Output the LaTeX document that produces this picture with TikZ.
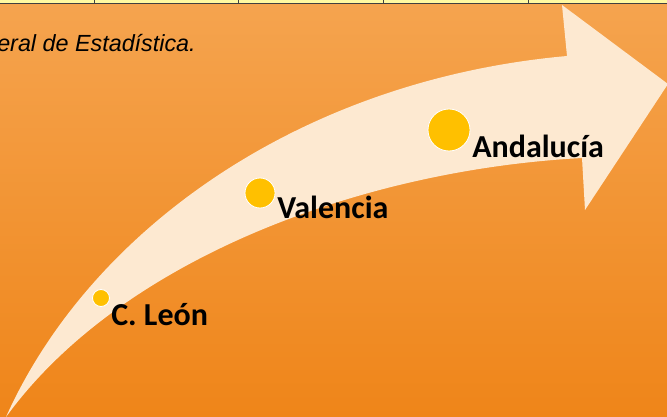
\documentclass[tikz,border=0pt]{standalone}
\usepackage{fontspec}
\setmainfont{Carlito}
\newfontfamily\srcfont{Liberation Sans}
\usetikzlibrary{positioning}
\definecolor{bgtop}{HTML}{F5A44F}
\definecolor{bgbot}{HTML}{EF8519}
\definecolor{cream}{HTML}{FDE9D1}
\definecolor{dotc}{HTML}{FFC000}
\definecolor{cellc}{HTML}{FFF9A0}
\tikzset{
  px/.style={x=0.75pt, y=-0.75pt},
  city/.style={circle, draw=white, line width=0.6pt, fill=dotc, inner sep=0pt},
  tag/.style={anchor=base west, inner sep=0pt, font=\bfseries\fontsize{24}{28}\selectfont},
  cell/.style={draw=black!75, line width=0.7pt}
}

\begin{document}
\begin{tikzpicture}[px]
\useasboundingbox (0,0) rectangle (667,417);
\shade[top color=bgtop, bottom color=bgbot] (0,0) rectangle (667,417);
% table row cut off at the top
\fill[cellc] (0,-2) rectangle (667,3.5);
\draw[cell] (0,3.5) -- (667,3.5);
\foreach \x in {94,238,383,528} \draw[cell] (\x,-2) -- (\x,3.5);
\node[anchor=base west, inner sep=0pt, font=\srcfont\itshape\fontsize{17.5}{20}\selectfont] (src) at (-3,52) {eral de Estadística.};
% curved arrow
\fill[cream] (6,417) .. controls (90,230) and (300,80) .. (567,56) -- (562,5) -- (668,84) -- (585,210) -- (582,158)
  .. controls (360,170) and (120,260) .. (6,417) -- cycle;
\node[city, minimum size=12.75pt] (leon) at (101,298) {};
\node[city, minimum size=22.5pt] (val) at (260,193) {};
\node[city, minimum size=31.5pt] (and) at (449,130) {};
\node[tag] (leonlbl) at (111,325) {C. León};
\node[tag] (vallbl) at (277,219) {Valencia};
\node[tag] (andlbl) at (472,157) {Andalucía};
\end{tikzpicture}
\end{document}
